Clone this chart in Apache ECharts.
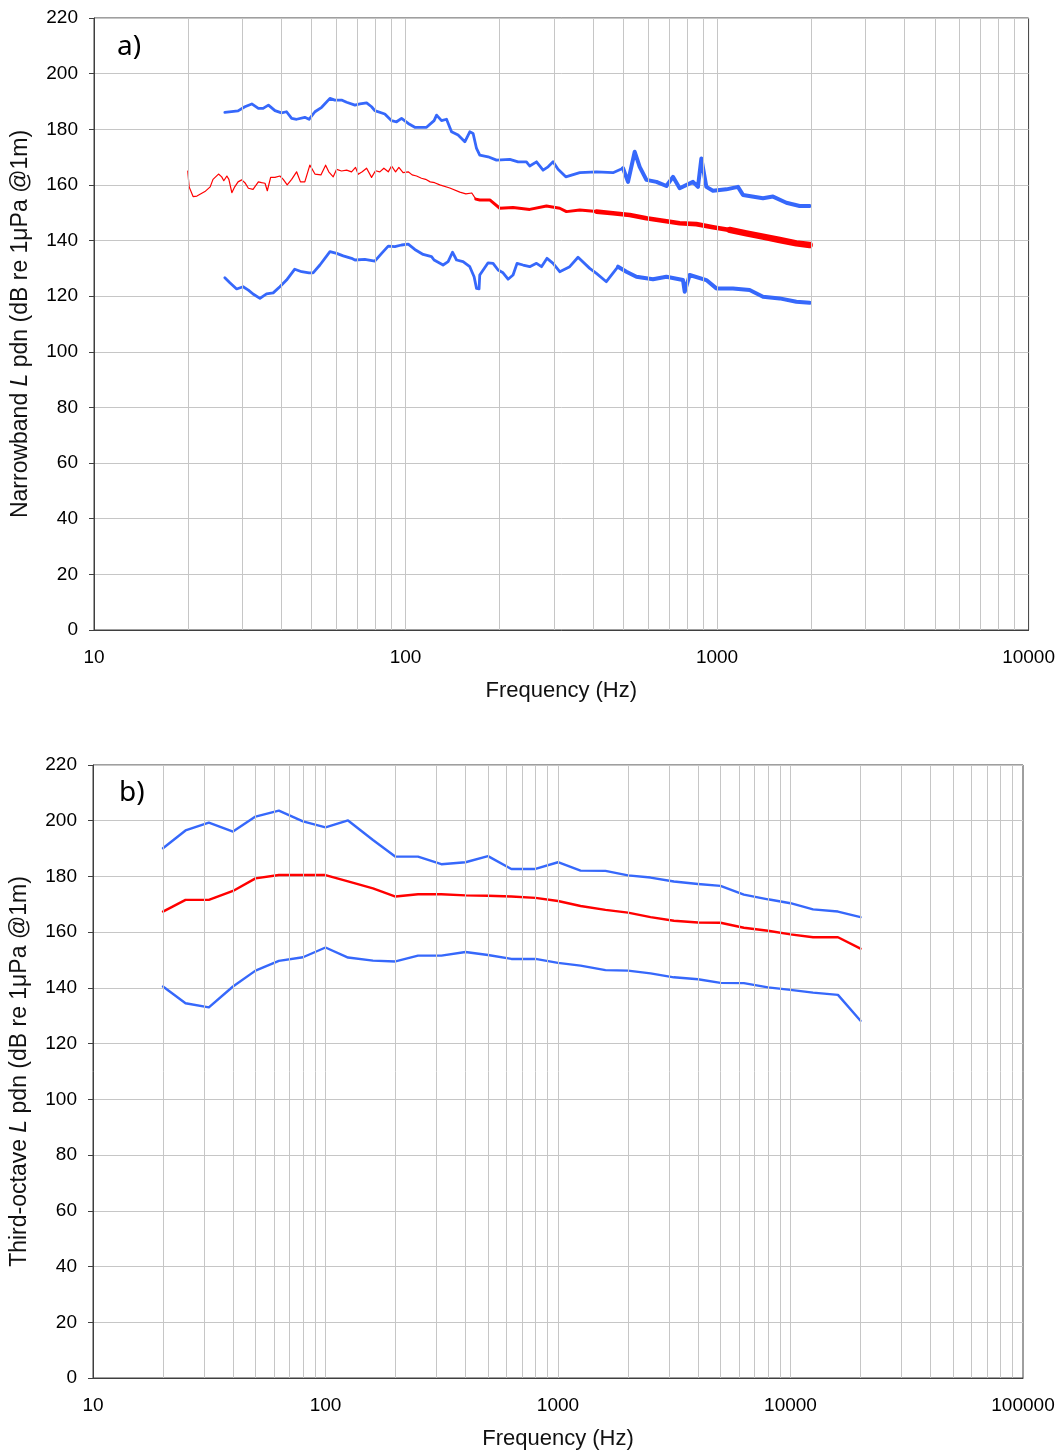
<!DOCTYPE html>
<html><head><meta charset="utf-8">
<script src="https://cdn.jsdelivr.net/npm/echarts@6/dist/echarts.min.js"></script>
<style>html,body{margin:0;padding:0;background:#fff}#c{width:1058px;height:1454px}</style>
</head><body><div id="c"></div>
<script>
// ---------- Panel a) narrowband (frequency Hz, level dB) ----------
const narrowMean = [[20.0,165.0],[20.2,159.3],[20.8,155.8],[21.4,156.0],[22.7,157.6],[23.6,159.3],[24.1,162.0],[25.1,163.9],[25.7,162.9],[26.1,161.5],[26.7,163.2],[27.1,162.0],[27.7,157.2],[28.3,159.3],[29.0,161.1],[29.8,161.8],[30.5,160.8],[31.3,158.8],[32.4,158.4],[33.7,161.1],[34.5,160.8],[35.4,160.6],[36.0,157.9],[36.9,162.7],[38.1,162.7],[39.5,163.2],[40.5,162.0],[41.7,160.0],[43.1,162.0],[44.7,164.7],[46.0,161.1],[47.5,161.1],[49.3,167.1],[51.2,163.9],[53.5,163.6],[55.4,167.1],[56.7,164.7],[58.6,162.9],[60.1,165.6],[62.3,165.0],[64.7,165.3],[67.1,164.7],[69.1,166.3],[70.5,163.8],[72.6,164.7],[75.0,166.0],[77.8,162.7],[80.1,165.1],[82.7,164.7],[85.2,166.0],[88.0,164.7],[90.2,166.8],[92.9,164.7],[95.2,166.3],[98.2,164.4],[102,164.7],[105,163.6],[108.5,163.2],[112.5,162.4],[116,162.0],[120,161.1],[124,160.8],[128.8,160.0],[138.7,158.9],[149.4,157.4],[156.2,156.8],[163.2,157.1],[168.1,154.9],[173.1,154.6],[186.4,154.6],[200.7,151.6],[221.4,151.9],[250.4,151.2],[283.4,152.4],[312.6,151.6],[328.5,150.4],[362.5,151.0],[410,150.4],[463.4,149.8],[524.3,149.2],[593.2,148.0],[670.8,147.1],[758.6,146.2],[858.2,145.9],[970.1,144.8],[1097.5,143.8],[1241.6,142.6],[1404.4,141.4],[1588.4,140.2],[1797,139.0],[1982,138.4]];

const narrowUpper = [[26.3,186.1],[29.0,186.6],[30.5,188.1],[32.1,189.1],[33.7,187.5],[34.9,187.5],[36.3,188.7],[38.1,186.7],[40.0,185.9],[41.5,186.3],[43.1,183.9],[44.7,183.6],[47.5,184.3],[49.0,183.6],[51.2,186.3],[53.8,187.9],[57.2,191.1],[59.3,190.5],[62.3,190.5],[64.7,189.7],[68.8,188.7],[71.4,189.1],[75.0,189.5],[77.8,188.1],[79.7,186.7],[85.8,185.5],[90.2,183.1],[93.6,182.7],[97.1,183.9],[102.0,182.1],[107.1,180.7],[116.8,180.7],[123.5,183.1],[125.8,185.1],[130.5,183.1],[135.4,183.6],[140.5,179.1],[147.5,177.9],[155.0,175.5],[160.8,179.1],[164.8,178.5],[169.0,173.1],[173.1,170.7],[184.1,170.1],[195.9,168.9],[216.1,169.2],[229.8,168.3],[244.4,168.3],[250.4,166.8],[263.3,168.3],[276.4,165.3],[286.8,166.5],[297.6,168.3],[308.8,165.6],[326.9,162.9],[362.5,164.4],[410,164.7],[463.4,164.4],[499.1,166.0],[517.8,161.1],[544.1,171.9],[564.5,166.5],[593.2,161.8],[638.9,161.1],[687.7,159.6],[722.0,162.9],[758.6,158.8],[837,161.1],[868.5,159.3],[890.5,169.5],[924,159.3],[970.1,157.9],[1071,158.4],[1167,159.3],[1211,156.4],[1404,155.2],[1512,155.8],[1669,153.6],[1841,152.4],[1982,152.4]];

const narrowLower = [[26.3,126.6],[27.3,124.8],[28.7,122.6],[30.1,123.4],[31.3,122.2],[32.4,120.8],[34.1,119.2],[35.8,120.8],[37.6,121.2],[39.5,123.4],[41.5,125.8],[44.1,129.7],[46.4,128.8],[49.0,128.4],[50.5,128.4],[53.1,131.2],[57.2,136.0],[60.1,135.4],[63.1,134.5],[67.1,133.6],[68.8,133.0],[74.0,133.2],[79.7,132.6],[83.8,135.4],[88.0,138.0],[92.4,137.8],[97.1,138.4],[102.0,138.7],[107.1,136.8],[113.9,135.0],[121.2,134.2],[123.5,133.0],[132.0,131.2],[137.0,132.4],[141.5,135.8],[145.8,133.0],[153.0,132.4],[160.8,130.6],[166.0,127.0],[169.0,122.8],[172.2,122.6],[173.1,127.6],[184.1,132.0],[191.0,131.8],[198.2,129.4],[205.6,128.4],[213.4,126.1],[221.4,127.6],[228.0,131.8],[238.4,131.2],[250.4,130.6],[263.3,131.8],[273.2,130.6],[284.6,133.6],[297.6,131.8],[312.6,128.8],[336.6,130.6],[357.9,134.0],[390.2,130.0],[410,128.2],[441.2,125.2],[481.0,130.6],[511.7,128.8],[550.9,127.0],[622.8,126.1],[687.7,127.0],[777.4,125.8],[787.3,121.6],[816.9,127.6],[924,125.8],[994.9,122.8],[1124.6,122.8],[1272.1,122.2],[1404.4,119.8],[1588.4,119.2],[1797,118.0],[1982,117.6]];

// ---------- Panel b) third-octave ----------
const thirdFreq = [20,25,31.5,40,50,63,80,100,125,160,200,250,315,400,500,630,800,1000,1250,1600,2000,2500,3150,4000,5000,6300,8000,10000,12500,16000,20000];
const thirdUpper = [190.1,196.5,199.3,196.1,201.5,203.6,199.8,197.6,200.1,193.1,187.1,187.1,184.4,185.1,187.3,182.7,182.7,185.1,182.1,182.0,180.4,179.6,178.2,177.3,176.6,173.5,171.8,170.4,168.2,167.4,165.4];
const thirdMean  = [167.4,171.6,171.6,174.8,179.3,180.5,180.5,180.5,178.2,175.7,172.8,173.6,173.6,173.2,173.1,172.8,172.3,171.2,169.4,168.0,167.0,165.4,164.1,163.5,163.4,161.6,160.5,159.2,158.2,158.2,154.1];
const thirdLower = [140.5,134.5,133.0,140.5,146.2,149.7,151.0,154.5,150.9,149.8,149.5,151.6,151.6,152.9,151.8,150.4,150.4,149.0,148.0,146.4,146.2,145.2,143.8,143.1,141.8,141.7,140.2,139.3,138.3,137.5,128.2];

const xRangeA = [10, 10000];
const xRangeB = [10, 100000];
const yTicks = {min: 0, max: 220, step: 20};

const BLUE = '#3668fb', RED = '#ff0000', GRIDC = '#c6c6c6', AXC = '#3f3f3f';
const FONT = 'Liberation Sans, Arial, sans-serif';

function minorLines(lo, hi) {
  const out = [];
  for (let d = lo; d < hi; d *= 10) {
    for (let k = 1; k <= 9; k++) { const v = k * d; if (v > lo && v < hi) out.push(v); }
  }
  return out;
}
function segment(data, lo, hi) {
  const out = [];
  for (let i = 0; i < data.length; i++) {
    const f = data[i][0];
    if (f >= lo && f <= hi) {
      if (out.length === 0 && i > 0) out.push(data[i - 1]);
      out.push(data[i]);
    }
  }
  return out;
}
function lineSeries(data, color, width, gi) {
  return { type: 'line', xAxisIndex: gi, yAxisIndex: gi, data: data, showSymbol: false, symbol: 'none',
    silent: true, z: 3, lineStyle: { color: color, width: width, join: 'round', cap: 'round' },
    emphasis: { disabled: true }, animation: false };
}
function gridSeries(vals, gi) {
  return { type: 'line', xAxisIndex: gi, yAxisIndex: gi, data: [], silent: true, z: 1, animation: false,
    markLine: { silent: true, animation: false, symbol: ['none', 'none'], label: { show: false },
      emphasis: { disabled: true },
      lineStyle: { color: GRIDC, width: 1, type: 'solid' }, data: vals.map(v => ({ xAxis: v })) } };
}
function xAxis(range, gi) {
  return { type: 'log', logBase: 10, gridIndex: gi, min: range[0], max: range[1],
    axisLine: { show: true, lineStyle: { color: AXC, width: 1 } }, axisTick: { show: false },
    splitLine: { show: false },
    axisLabel: { color: '#000', fontSize: 19, fontFamily: FONT, margin: 18, formatter: v => String(Math.round(v)) },
    name: 'Frequency (Hz)', nameLocation: 'middle', nameGap: 50,
    nameTextStyle: { color: '#111', fontSize: 22, fontFamily: FONT } };
}
function yAxis(prefix, gi) {
  return { type: 'value', gridIndex: gi, min: yTicks.min, max: yTicks.max, interval: yTicks.step,
    axisLine: { show: true, lineStyle: { color: AXC, width: 1 } },
    axisTick: { show: true, inside: false, length: 5, lineStyle: { color: AXC } },
    splitLine: { show: true, lineStyle: { color: GRIDC, width: 1 } },
    axisLabel: { color: '#000', fontSize: 19, fontFamily: FONT, margin: 16 },
    name: '{n|' + prefix + ' }{i|L}{n| pdn (dB re 1μPa @1m)}', nameLocation: 'middle', nameGap: 62, nameRotate: 90,
    nameTextStyle: { color: '#111', fontSize: 23, fontFamily: FONT,
      rich: { n: { fontSize: 23, fontFamily: FONT, color: '#111' }, i: { fontSize: 23, fontFamily: FONT, fontStyle: 'italic', color: '#111' } } } };
}

const series = [
  gridSeries(minorLines(xRangeA[0], xRangeA[1]), 0),
  gridSeries(minorLines(xRangeB[0], xRangeB[1]), 1)
];
// panel a: blue bands
[narrowUpper, narrowLower].forEach(d => {
  series.push(lineSeries(segment(d, 0, 500), BLUE, 2.8, 0));
  series.push(lineSeries(segment(d, 500, 3000), BLUE, 4, 0));
});
// panel a: red mean (noise thickness grows with frequency density)
[[0, 170, 1.2], [170, 450, 3], [450, 1100, 4.6], [1100, 3000, 6.4]].forEach(s => {
  series.push(lineSeries(segment(narrowMean, s[0], s[1]), RED, s[2], 0));
});
// panel b
const zipF = v => thirdFreq.map((f, i) => [f, v[i]]);
series.push(lineSeries(zipF(thirdUpper), BLUE, 2.4, 1));
series.push(lineSeries(zipF(thirdLower), BLUE, 2.4, 1));
series.push(lineSeries(zipF(thirdMean), RED, 2.4, 1));

const chart = echarts.init(document.getElementById('c'));
chart.setOption({
  animation: false,
  backgroundColor: '#fff',
  title: [
    { text: 'a)', left: 112, top: 28, textStyle: { fontSize: 28, fontWeight: 'normal', color: '#000', fontFamily: 'Noto Sans, sans-serif' } },
    { text: 'b)', left: 114, top: 774, textStyle: { fontSize: 28, fontWeight: 'normal', color: '#000', fontFamily: 'Noto Sans, sans-serif' } }
  ],
  grid: [
    { left: 94, top: 18, width: 935, height: 612, show: true, borderColor: AXC, borderWidth: 1, backgroundColor: '#fff' },
    { left: 93, top: 765, width: 930, height: 613, show: true, borderColor: AXC, borderWidth: 1, backgroundColor: '#fff' }
  ],
  xAxis: [xAxis(xRangeA, 0), xAxis(xRangeB, 1)],
  yAxis: [yAxis('Narrowband', 0), yAxis('Third-octave', 1)],
  series: series
});
</script></body></html>
